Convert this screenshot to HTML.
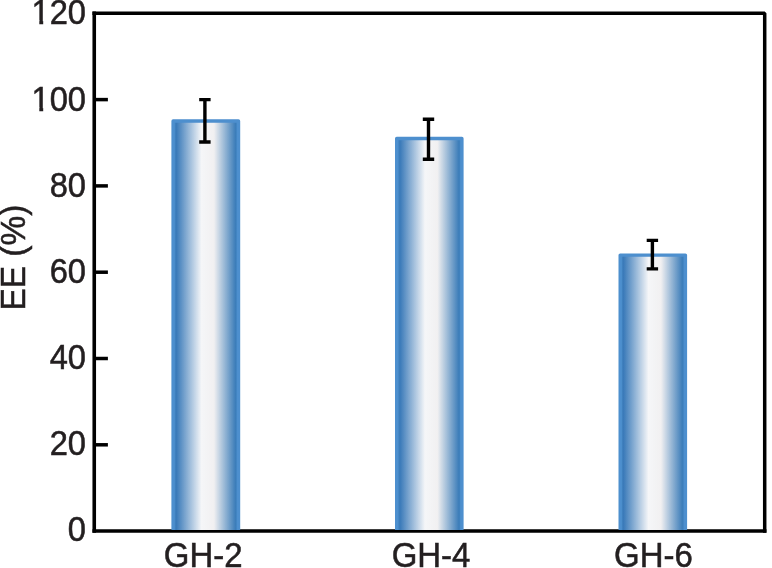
<!DOCTYPE html>
<html><head><meta charset="utf-8"><title>EE chart</title>
<style>
html,body{margin:0;padding:0;background:#fff;}
body{width:772px;height:568px;overflow:hidden;}
svg{display:block;filter:blur(0.35px);}
text{font-family:"Liberation Sans",Arial,sans-serif;fill:#231f20;stroke:#231f20;stroke-width:0.5px;}
</style></head><body>
<svg width="772" height="568" viewBox="0 0 772 568">
<defs>
<linearGradient id="g" x1="0" y1="0" x2="1" y2="0">
<stop offset="0" stop-color="#4a8cc9"/>
<stop offset="0.052" stop-color="#3a7ab9"/>
<stop offset="0.434" stop-color="#f5f6f8"/>
<stop offset="0.625" stop-color="#f1f0f1"/>
<stop offset="0.953" stop-color="#3c7db9"/>
<stop offset="1" stop-color="#4a8cc9"/>
</linearGradient>
</defs>
<rect width="772" height="568" fill="#fff"/>

<path d="M94.25 11.5V532.75" stroke="#000" stroke-width="3.6" fill="none"/><path d="M92.45 13.3H764.7V532.75" stroke="#000" stroke-width="3.5" stroke-linejoin="bevel" fill="none"/><path d="M92.45 531.05H766.45" stroke="#000" stroke-width="3.4" fill="none"/>
<line x1="95" x2="107.9" y1="444.8" y2="444.8" stroke="#000" stroke-width="3.5"/>
<line x1="95" x2="107.9" y1="358.5" y2="358.5" stroke="#000" stroke-width="3.5"/>
<line x1="95" x2="107.9" y1="272.2" y2="272.2" stroke="#000" stroke-width="3.5"/>
<line x1="95" x2="107.9" y1="185.9" y2="185.9" stroke="#000" stroke-width="3.5"/>
<line x1="95" x2="107.9" y1="99.6" y2="99.6" stroke="#000" stroke-width="3.5"/>
<path d="M173.10 530.1V121.00H238.50V530.1" fill="url(#g)" stroke="#4d8fce" stroke-width="3.4" stroke-linejoin="round"/>
<path d="M396.70 530.1V138.50H461.90V530.1" fill="url(#g)" stroke="#4d8fce" stroke-width="3.4" stroke-linejoin="round"/>
<path d="M620.20 530.1V255.10H685.40V530.1" fill="url(#g)" stroke="#4d8fce" stroke-width="3.4" stroke-linejoin="round"/>
<path d="M204.9 99.5V142.1M199.2 99.6H210.6M199.2 142.0H210.6" stroke="#000" stroke-width="3.4" fill="none"/>
<path d="M428.5 119.2V159.3M422.8 119.3H434.2M422.8 159.2H434.2" stroke="#000" stroke-width="3.4" fill="none"/>
<path d="M652.4 240.3V269.0M646.7 240.4H658.1M646.7 268.9H658.1" stroke="#000" stroke-width="3.4" fill="none"/>
<text transform="translate(86,540.8) scale(1.02,1.10)" font-size="32" text-anchor="end">0</text>
<text transform="translate(86,454.6) scale(1.02,1.10)" font-size="32" text-anchor="end">20</text>
<text transform="translate(86,368.6) scale(1.02,1.10)" font-size="32" text-anchor="end">40</text>
<text transform="translate(86,282.7) scale(1.02,1.10)" font-size="32" text-anchor="end">60</text>
<text transform="translate(86,196.9) scale(1.02,1.10)" font-size="32" text-anchor="end">80</text>
<text transform="translate(86,111.2) scale(1.02,1.10)" font-size="32" text-anchor="end">100</text>
<text transform="translate(86,24.2) scale(1.02,1.10)" font-size="32" text-anchor="end">120</text>
<rect x="31" y="107.3" width="8.3" height="6" fill="#fff"/><rect x="43.2" y="107.3" width="7" height="6" fill="#fff"/>
<rect x="31" y="20.3" width="8.3" height="6" fill="#fff"/><rect x="43.2" y="20.3" width="7" height="6" fill="#fff"/>
<text transform="translate(203.2,566.8) scale(1.03,1.10)" font-size="32" text-anchor="middle">GH-2</text>
<text transform="translate(431.0,566.8) scale(1.03,1.10)" font-size="32" text-anchor="middle">GH-4</text>
<text transform="translate(653.4,566.8) scale(1.03,1.10)" font-size="32" text-anchor="middle">GH-6</text>
<text transform="translate(25.0,257.6) rotate(-90) scale(1.045,1.09)" font-size="32" text-anchor="middle">EE (%)</text>
</svg></body></html>
